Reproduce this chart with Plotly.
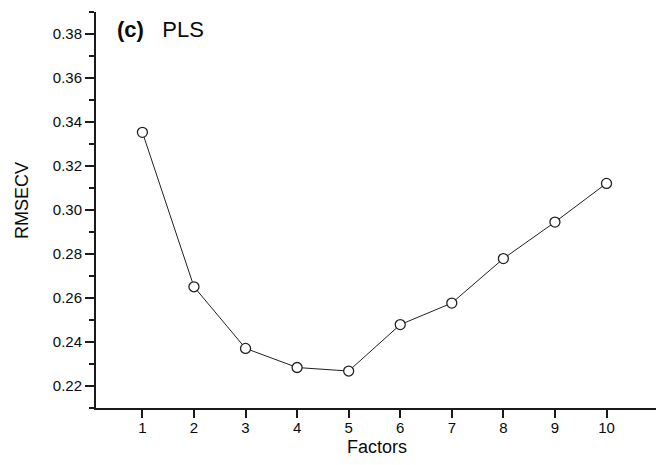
import plotly.graph_objects as go

factors = [1, 2, 3, 4, 5, 6, 7, 8, 9, 10]
rmsecv = [0.3353, 0.2651, 0.2371, 0.2284, 0.2268, 0.2479, 0.2577, 0.2779, 0.2945, 0.3121]
x_ticks = [1, 2, 3, 4, 5, 6, 7, 8, 9, 10]
y_ticks = [0.22, 0.24, 0.26, 0.28, 0.30, 0.32, 0.34, 0.36, 0.38]

FONT = "Liberation Sans, Arial, sans-serif"
AX = "#1a1a1a"
TXT = "#0a0a0a"

fig = go.Figure()
fig.add_trace(go.Scatter(
    x=factors, y=rmsecv, mode="lines+markers",
    line=dict(color="#222222", width=1),
    marker=dict(symbol="circle", size=10, color="white",
                line=dict(color="#222222", width=1.3)),
    showlegend=False, cliponaxis=False,
))

# plot area in window px: x 96..656, y 12..408
fig.update_layout(
    width=656, height=465,
    margin=dict(l=96, r=0, t=12, b=57, autoexpand=False),
    paper_bgcolor="white", plot_bgcolor="white",
    font=dict(family=FONT, color=TXT),
    xaxis=dict(
        range=[0.1, 10.96], tickmode="array", tickvals=x_ticks,
        ticktext=[str(v) for v in x_ticks],
        ticks="outside", ticklen=8, tickwidth=2, tickcolor=AX,
        showline=True, linecolor=AX, linewidth=2,
        showgrid=False, zeroline=False, automargin=False,
        ticklabelstandoff=-3,
        tickfont=dict(size=15, family=FONT, color=TXT),
    ),
    yaxis=dict(
        range=[0.21, 0.39], tickmode="array", tickvals=y_ticks,
        ticktext=["%.2f" % v for v in y_ticks],
        ticks="outside", ticklen=9, tickwidth=2, tickcolor=AX,
        minor=dict(dtick=0.01, tick0=0.21, ticks="outside", ticklen=5,
                   tickwidth=2, tickcolor=AX),
        showline=True, linecolor=AX, linewidth=2,
        showgrid=False, zeroline=False, automargin=False,
        tickfont=dict(size=15, family=FONT, color=TXT),
    ),
    annotations=[
        dict(text="<b>(c)</b>&nbsp;&nbsp;&nbsp;PLS", xref="paper", yref="paper",
             x=(115 - 96) / 560, y=(408 - 30) / 396, xanchor="left", yanchor="middle",
             showarrow=False, font=dict(size=22, family=FONT, color=TXT)),
        dict(text="Factors", xref="paper", yref="paper",
             x=(377 - 96) / 560, y=(408 - 447) / 396, xanchor="center", yanchor="middle",
             showarrow=False, font=dict(size=18, family=FONT, color=TXT)),
        dict(text="RMSECV", xref="paper", yref="paper", textangle=-90,
             x=(22 - 96) / 560, y=(408 - 201) / 396, xanchor="center", yanchor="middle",
             showarrow=False, font=dict(size=18, family=FONT, color=TXT)),
    ],
)

fig.write_html(
    "out.html",
    config={"displayModeBar": False, "staticPlot": True},
    post_script="document.body.style.margin='0';document.body.style.overflow='hidden';",
)
